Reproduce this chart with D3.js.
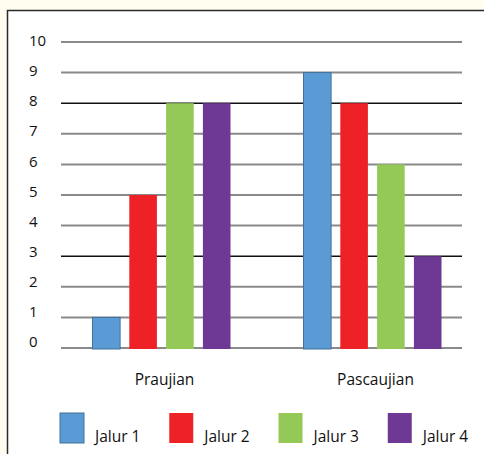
<!DOCTYPE html>
<html><head><meta charset="utf-8">
<script src="https://cdn.jsdelivr.net/npm/d3@7"></script>
<style>
html,body{margin:0;padding:0;background:#fffdf0;}
svg{display:block;}
text{font-family:"Open Sans",Lato,sans-serif;fill:#111;}
</style></head>
<body>
<svg id="chart" width="484" height="454"></svg>
<script>
const categories = ["Praujian", "Pascaujian"];
const seriesNames = ["Jalur 1", "Jalur 2", "Jalur 3", "Jalur 4"];
const jalur1 = [1, 9];
const jalur2 = [5, 8];
const jalur3 = [8, 6];
const jalur4 = [8, 3];
const yTicks = [0, 1, 2, 3, 4, 5, 6, 7, 8, 9, 10];
const colors = ["#5b9bd5", "#ee2127", "#95c957", "#6e3994"];
const strokes = ["#41719c", "none", "none", "none"];
const seriesValues = [jalur1, jalur2, jalur3, jalur4];

const svg = d3.select("#chart");
// white frame
svg.append("rect").attr("x", 7.5).attr("y", 10.5).attr("width", 500).attr("height", 500)
  .attr("fill", "#ffffff").attr("stroke", "#2b2b2b").attr("stroke-width", 1.5);

const y = d3.scaleLinear().domain([0, 10]).range([348, 42]);
const yLab = d3.scaleLinear().domain([0, 10]).range([342, 40.5]);
const x0 = d3.scaleBand().domain(categories).range([55, 477]).padding(0);
const x1 = d3.scaleBand().domain(seriesNames).range([-68, 70]).paddingInner(0.25);

// gridlines
const grid = svg.append("g");
grid.selectAll("line").data(yTicks).join("line")
  .attr("x1", 61).attr("x2", 462)
  .attr("y1", d => y(d)).attr("y2", d => y(d))
  .attr("stroke", d => (d === 3 || d === 8) ? "#111" : "#8a8a8a")
  .attr("stroke-width", d => (d === 3 || d === 8) ? 1.5 : 2);

// y tick labels
svg.append("g").selectAll("text").data(yTicks).join("text")
  .attr("x", 29).attr("y", d => yLab(d)).attr("dy", "0.36em")
  .attr("font-size", 15).text(d => d);

// bars
const groups = svg.append("g").selectAll("g").data(categories).join("g")
  .attr("transform", d => `translate(${x0(d) + x0.bandwidth() / 2},0)`);
groups.selectAll("rect").data((c, ci) => seriesNames.map((s, si) => ({ s, si, v: seriesValues[si][ci] })))
  .join("rect")
  .attr("x", d => x1(d.s)).attr("width", x1.bandwidth())
  .attr("y", d => y(d.v)).attr("height", d => y(0) - y(d.v) + 1)
  .attr("fill", d => colors[d.si])
  .attr("stroke", d => strokes[d.si]).attr("stroke-width", 1);

// category labels
svg.append("g").selectAll("text").data(categories).join("text")
  .attr("x", d => x0(d) + x0.bandwidth() / 2 + 4).attr("y", 385)
  .attr("text-anchor", "middle").attr("font-size", 15.5).text(d => d);

// legend
const lx = d3.scaleBand().domain(seriesNames).range([60, 497]);
const leg = svg.append("g").selectAll("g").data(seriesNames).join("g")
  .attr("transform", d => `translate(${lx(d)},0)`);
leg.append("rect").attr("x", 0).attr("y", 413).attr("width", 24).attr("height", 30)
  .attr("fill", (d, i) => colors[i]).attr("stroke", (d, i) => strokes[i]).attr("stroke-width", 1);
leg.append("text").attr("x", 35).attr("y", 442).attr("font-size", 15.5).text(d => d);
</script>
</body></html>
